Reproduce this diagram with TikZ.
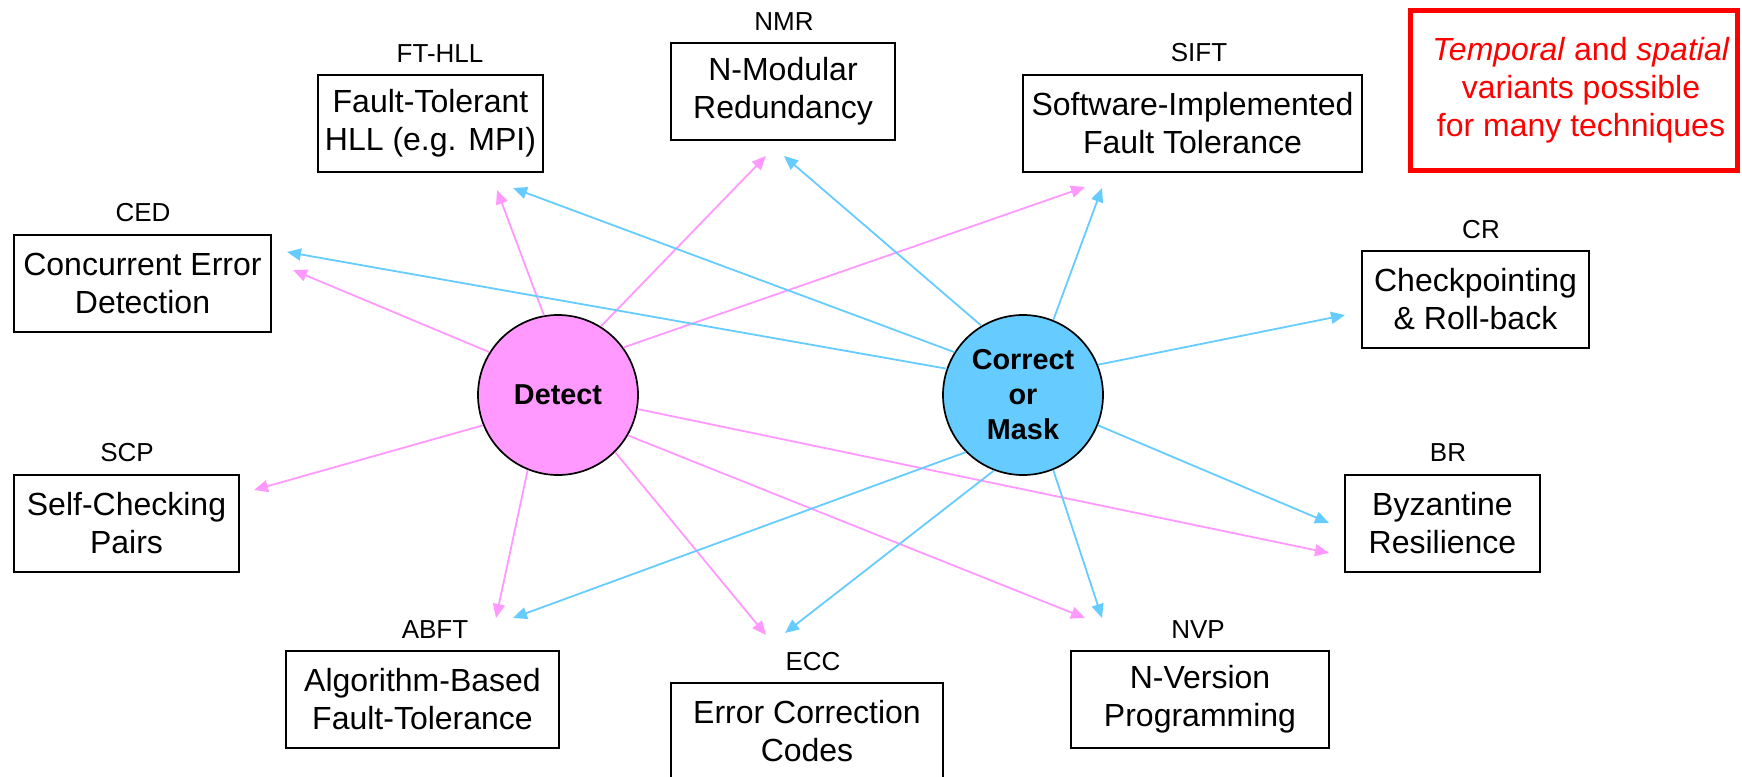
\documentclass[tikz,border=0pt]{standalone}
\usepackage{fontspec}
\setmainfont{Liberation Sans}
\usetikzlibrary{arrows.meta}
\definecolor{detpink}{HTML}{FF99FF}
\definecolor{corblue}{HTML}{66CCFF}
\tikzset{
  techbox/.style={draw=black, line width=1pt, rectangle, inner sep=0pt,
    minimum height=48.5pt, align=center,
    font=\fontsize{16pt}{19pt}\selectfont},
  abbrev/.style={inner sep=0pt, font=\fontsize{13pt}{15pt}\selectfont},
  hub/.style={circle, draw=black, line width=0.85pt, minimum size=80pt,
    inner sep=0pt, align=center,
    font=\fontsize{14.4pt}{17.5pt}\selectfont\bfseries},
  pinkarrow/.style={draw=detpink, line width=0.9pt,
    -{Triangle[length=7pt,width=6pt]}},
  bluearrow/.style={draw=corblue, line width=0.9pt,
    -{Triangle[length=7pt,width=6pt]}},
  notebox/.style={draw=red, line width=2.5pt, rectangle, inner sep=0pt,
    minimum width=163.5pt, minimum height=80pt, align=center, text=red,
    font=\fontsize{16pt}{19pt}\selectfont}
}
\begin{document}
\begin{tikzpicture}[x=0.5pt, y=-0.5pt]
\useasboundingbox (0,0) rectangle (1742,777);

% technique boxes
\node[techbox, minimum width=112.5pt] (ft)   at (430.5,123.5) {Fault-Tolerant\\HLL (e.g. MPI)};
\node[techbox, minimum width=128.5pt] (ced)  at (142.5,283.5) {Concurrent Error\\Detection};
\node[techbox, minimum width=112pt]   (nmr)  at (783,91)      {N-Modular\\Redundancy};
\node[techbox, minimum width=169.5pt] (sift) at (1192.5,123.5){Software-Implemented\\Fault Tolerance};
\node[techbox, minimum width=113.5pt] (cr)   at (1475.5,299.5){Checkpointing\\\& Roll-back};
\node[techbox, minimum width=112.5pt] (scp)  at (126.5,523.5) {Self-Checking\\Pairs};
\node[techbox, minimum width=136.5pt] (abft) at (422.5,699.5) {Algorithm-Based\\Fault-Tolerance};
\node[techbox, minimum width=136pt]   (ecc)  at (807,731.5)   {Error Correction\\Codes};
\node[techbox, minimum width=129pt]   (nvp)  at (1200,699.5)  {N-Version\\Programming};
\node[techbox, minimum width=97.5pt]  (br)   at (1442.5,523.5){Byzantine\\Resilience};

% abbreviations
\node[abbrev] (lft)   at (440,54)   {FT-HLL};
\node[abbrev] (lced)  at (143,213)  {CED};
\node[abbrev] (lnmr)  at (784,22)   {NMR};
\node[abbrev] (lsift) at (1199,53)  {SIFT};
\node[abbrev] (lcr)   at (1481,230) {CR};
\node[abbrev] (lscp)  at (127,453)  {SCP};
\node[abbrev] (labft) at (435,630)  {ABFT};
\node[abbrev] (lecc)  at (813,662)  {ECC};
\node[abbrev] (lnvp)  at (1198,630) {NVP};
\node[abbrev] (lbr)   at (1448,453) {BR};

% note
\node[notebox] (note) at (1574,90.5)
  {\hspace*{7pt}\textit{Temporal} and \textit{spatial}\\\hspace*{7pt}variants possible\\\hspace*{7pt}for many techniques};

% hubs
\node[hub, fill=detpink] (det) at (558,395)  {Detect};
\node[hub, fill=corblue] (cor) at (1023,395) {Correct\\or\\Mask};

% arrow tips (free ends)
\coordinate (pft)   at (497,190);
\coordinate (pced)  at (293,270);
\coordinate (pnmr)  at (766,156);
\coordinate (psift) at (1085,187);
\coordinate (pbr)   at (1329,553);
\coordinate (pnvp)  at (1085,618);
\coordinate (pecc)  at (766,635);
\coordinate (pscp)  at (254,490);
\coordinate (pabft) at (496,618);

\coordinate (bft)   at (513,188);
\coordinate (bced)  at (287,252);
\coordinate (bnmr)  at (784,156);
\coordinate (bsift) at (1102,188);
\coordinate (bcr)   at (1345,315);
\coordinate (bbr)   at (1329,523);
\coordinate (bnvp)  at (1102,618);
\coordinate (becc)  at (785,633);
\coordinate (babft) at (513,618);

% detection links
\draw[pinkarrow] (det.100.6) -- (pft);
\draw[pinkarrow] (det.148.7) -- (pced);
\draw[pinkarrow] (det.58.5)  -- (pnmr);
\draw[pinkarrow] (det.36)    -- (psift);
\draw[pinkarrow] (det.-10)   -- (pbr);
\draw[pinkarrow] (det.-30.6) -- (pnvp);
\draw[pinkarrow] (det.-45)   -- (pecc);
\draw[pinkarrow] (det.202)   -- (pscp);
\draw[pinkarrow] (det.248.8) -- (pabft);

% correction / masking links
\draw[bluearrow] (cor.148.7) -- (bft);
\draw[bluearrow] (cor.161.7) -- (bced);
\draw[bluearrow] (cor.121)   -- (bnmr);
\draw[bluearrow] (cor.68.2)  -- (bsift);
\draw[bluearrow] (cor.22)    -- (bcr);
\draw[bluearrow] (cor.-22)   -- (bbr);
\draw[bluearrow] (cor.-68.2) -- (bnvp);
\draw[bluearrow] (cor.-111.8)-- (becc);
\draw[bluearrow] (cor.-135)  -- (babft);
\end{tikzpicture}
\end{document}
